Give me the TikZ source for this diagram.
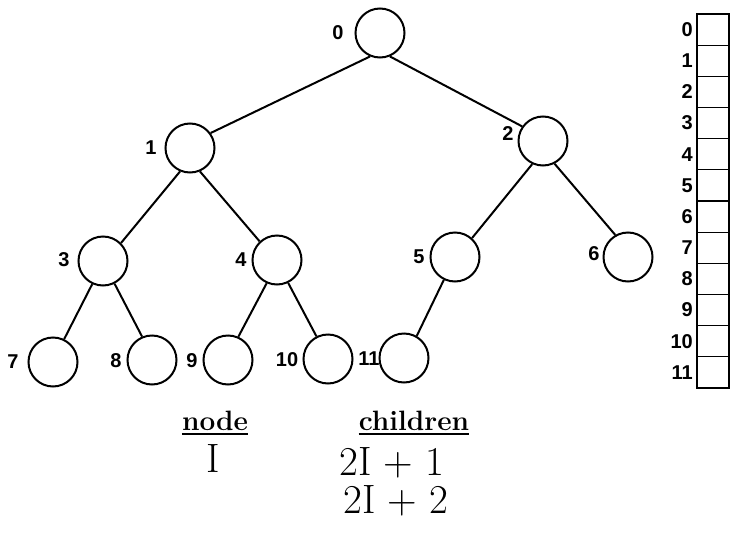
\documentclass[tikz,border=0pt]{standalone}
\usepackage{fontspec}
\setsansfont{Liberation Sans}
\usetikzlibrary{positioning}

\begin{document}
\begin{tikzpicture}[x=1pt, y=-1pt]
\tikzset{noeud/.style={draw, circle, line width=2pt, minimum size=49pt, inner sep=0pt}}
\tikzset{numero/.style={font=\sffamily\bfseries\fontsize{20}{22}\selectfont, inner sep=0pt}}
\tikzset{case/.style={draw, line width=1.2pt, minimum width=32pt, minimum height=31.17pt, inner sep=0pt, outer sep=0pt}}
\tikzset{main/.style={font=\bfseries\fontsize{28}{30}\selectfont, inner sep=0pt, anchor=base}}
\tikzset{formule/.style={font=\fontsize{41}{43}\selectfont, inner sep=0pt, anchor=base}}
\useasboundingbox (0,0) rectangle (739,533);
% the tree
\node[noeud] (V0) at (380,33) {};
\node[noeud] (V1) at (190,148) {};
\node[noeud] (V2) at (543,141) {};
\node[noeud] (V3) at (103,261) {};
\node[noeud] (V4) at (277,260) {};
\node[noeud] (V5) at (455,257) {};
\node[noeud] (V6) at (628,257) {};
\node[noeud] (V7) at (53,362) {};
\node[noeud] (V8) at (152,360) {};
\node[noeud] (V9) at (228,360) {};
\node[noeud] (V10) at (328,359) {};
\node[noeud] (V11) at (404,358) {};
\node[numero] (N0) at (338,33) {0};
\node[numero] (N1) at (151,148) {1};
\node[numero] (N2) at (508,134) {2};
\node[numero] (N3) at (64,260) {3};
\node[numero] (N4) at (241,260) {4};
\node[numero] (N5) at (419,257) {5};
\node[numero] (N6) at (594,254) {6};
\node[numero] (N7) at (13,362) {7};
\node[numero] (N8) at (116,361) {8};
\node[numero] (N9) at (192,361) {9};
\node[numero] (N10) at (287,360) {10};
\node[numero] (N11) at (369,359) {11};
\draw[line width=2pt] (V0.247) -- (V1.36);
\draw[line width=2pt] (V0.293) -- (V2.145);
\draw[line width=2pt] (V1.247) -- (V3.45);
\draw[line width=2pt] (V1.293) -- (V4.133);
\draw[line width=2pt] (V2.245) -- (V5.48);
\draw[line width=2pt] (V2.297) -- (V6.120);
\draw[line width=2pt] (V3.245) -- (V7.64);
\draw[line width=2pt] (V3.297) -- (V8.113);
\draw[line width=2pt] (V4.246) -- (V9.66);
\draw[line width=2pt] (V4.296) -- (V10.117);
\draw[line width=2pt] (V5.244) -- (V11.60);
% the array
\node[case] (C0) at (713,29.6) {};
\node[case] (C1) at (713,60.8) {};
\node[case] (C2) at (713,91.9) {};
\node[case] (C3) at (713,123.1) {};
\node[case] (C4) at (713,154.3) {};
\node[case] (C5) at (713,185.4) {};
\node[case] (C6) at (713,216.6) {};
\node[case] (C7) at (713,247.8) {};
\node[case] (C8) at (713,278.9) {};
\node[case] (C9) at (713,310.1) {};
\node[case] (C10) at (713,341.3) {};
\node[case] (C11) at (713,372.4) {};
\node[numero, left=4pt of C0] (I0) {0};
\node[numero, left=4pt of C1] (I1) {1};
\node[numero, left=4pt of C2] (I2) {2};
\node[numero, left=4pt of C3] (I3) {3};
\node[numero, left=4pt of C4] (I4) {4};
\node[numero, left=4pt of C5] (I5) {5};
\node[numero, left=4pt of C6] (I6) {6};
\node[numero, left=4pt of C7] (I7) {7};
\node[numero, left=4pt of C8] (I8) {8};
\node[numero, left=4pt of C9] (I9) {9};
\node[numero, left=4pt of C10] (I10) {10};
\node[numero, left=4pt of C11] (I11) {11};
% the rule
\node[main] (T1) at (215,430) {node};
\node[main] (T2) at (414,430) {children};
\draw[line width=2pt] ([yshift=-4pt]T1.base west) -- ([yshift=-4pt]T1.base east);
\draw[line width=2pt] ([yshift=-4pt]T2.base west) -- ([yshift=-4pt]T2.base east);
\node[formule] (F1) at (213,472) {I};
\node[formule] (F2) at (392,475) {2I + 1};
\node[formule] (F3) at (396,513) {2I + 2};
\end{tikzpicture}
\end{document}
